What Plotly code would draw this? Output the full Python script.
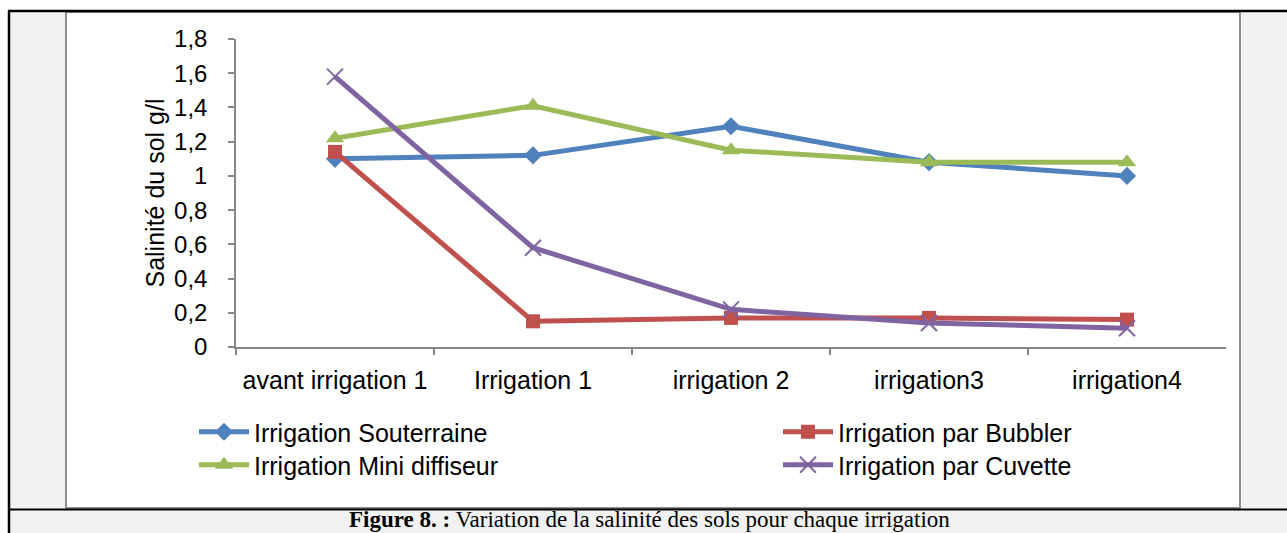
import plotly.graph_objects as go

W, H = 1287, 533

categories = ["avant irrigation 1", "Irrigation 1", "irrigation 2", "irrigation3", "irrigation4"]
souterraine = [1.10, 1.12, 1.29, 1.08, 1.00]
bubbler = [1.14, 0.15, 0.17, 0.17, 0.16]
mini_diffiseur = [1.22, 1.41, 1.15, 1.08, 1.08]
cuvette = [1.58, 0.58, 0.22, 0.14, 0.11]

names = ["Irrigation Souterraine", "Irrigation par Bubbler", "Irrigation Mini diffiseur", "Irrigation par Cuvette"]
colors = ["#4F81BD", "#C0504D", "#9BBB59", "#8064A2"]

def fx(x):
    return x / W

def fy(y):
    return 1 - y / H

FONT = "Liberation Sans, Arial, sans-serif"
FS = 24
FL = 25

fig = go.Figure()
fig.add_trace(go.Scatter(x=categories, y=souterraine, name=names[0], mode="lines+markers",
                         line=dict(color=colors[0], width=5),
                         marker=dict(symbol="diamond", size=14, color=colors[0]), legend="legend"))
fig.add_trace(go.Scatter(x=categories, y=bubbler, name=names[1], mode="lines+markers",
                         line=dict(color=colors[1], width=5),
                         marker=dict(symbol="square", size=14, color=colors[1]), legend="legend2"))
fig.add_trace(go.Scatter(x=categories, y=mini_diffiseur, name=names[2], mode="lines+markers",
                         line=dict(color=colors[2], width=5),
                         marker=dict(symbol="triangle-up", size=16, color=colors[2]), legend="legend3"))
fig.add_trace(go.Scatter(x=categories, y=cuvette, name=names[3], mode="lines+markers",
                         line=dict(color=colors[3], width=5),
                         marker=dict(symbol="x-thin-open", size=16, color=colors[3],
                                     line=dict(color=colors[3], width=2)), legend="legend4"))
for t in fig.data:
    t.showlegend = True

shapes = [
    dict(type="rect", xref="paper", yref="paper", x0=fx(8), x1=fx(1290), y0=fy(536), y1=fy(11),
         fillcolor="#f2f2f2", line=dict(width=0), layer="below"),
    dict(type="rect", xref="paper", yref="paper", x0=fx(66), x1=fx(1240), y0=fy(508), y1=fy(12),
         fillcolor="white", line=dict(color="#8c8c8c", width=2), layer="below"),
    dict(type="line", xref="paper", yref="paper", x0=fx(8), x1=fx(1290), y0=fy(11), y1=fy(11),
         line=dict(color="black", width=2.5)),
    dict(type="line", xref="paper", yref="paper", x0=fx(9), x1=fx(9), y0=fy(11), y1=fy(540),
         line=dict(color="black", width=2.5)),
    dict(type="line", xref="paper", yref="paper", x0=fx(8), x1=fx(1290), y0=fy(509.5), y1=fy(509.5),
         line=dict(color="black", width=2)),
]

def leg(x, y):
    return dict(x=fx(x), y=fy(y), orientation="v", xanchor="left", yanchor="middle",
                itemwidth=50, bgcolor="rgba(0,0,0,0)", borderwidth=0,
                font=dict(family=FONT, size=FL, color="black"))

fig.update_layout(
    width=W, height=H, autosize=False, showlegend=True,
    margin=dict(l=0, r=0, t=0, b=0, pad=0, autoexpand=False),
    paper_bgcolor="white", plot_bgcolor="rgba(0,0,0,0)",
    separators=",.",
    font=dict(family=FONT, size=FS, color="black"),
    shapes=shapes,
    xaxis=dict(domain=[fx(236), fx(1226)], type="category", range=[-0.5, 4.5],
               tickson="boundaries", ticks="outside", ticklen=6, tickcolor="#868686", tickwidth=1.5,
               showline=True, linecolor="#868686", linewidth=1.5, showgrid=False, zeroline=False,
               ticklabelstandoff=10, tickfont=dict(family=FONT, size=FL, color="black")),
    yaxis=dict(domain=[fy(347), fy(39)], range=[0, 1.8], dtick=0.2, tick0=0,
               ticks="outside", ticklen=6, tickcolor="#868686", tickwidth=1.5,
               showline=True, linecolor="#868686", linewidth=1.5, showgrid=False, zeroline=False,
               ticklabelstandoff=16, tickfont=dict(family=FONT, size=FS, color="black"),
               title=dict(text="Salinité du sol g/l", standoff=2,
                          font=dict(family=FONT, size=FL, color="black"))),
    legend=leg(194, 432),
    legend2=leg(778, 432),
    legend3=leg(194, 465),
    legend4=leg(778, 465),
    annotations=[dict(xref="paper", yref="paper", x=fx(649), y=0, xanchor="center", yanchor="bottom",
                      showarrow=False, borderpad=0,
                      text="<b>Figure 8. :</b> Variation de la salinité des sols pour chaque irrigation",
                      font=dict(family="Liberation Serif, Times New Roman, serif", size=23, color="black"))],
)

post = (
    "document.documentElement.style.margin='0';"
    "document.documentElement.style.overflow='hidden';"
    "document.body.style.margin='0';"
    "document.body.style.overflow='hidden';"
    "var gd=document.getElementById('{plot_id}');"
    "gd.style.position='fixed';gd.style.top='0px';gd.style.left='0px';"
)

fig.write_html("out.html", config={"displayModeBar": False, "responsive": False}, post_script=post)
